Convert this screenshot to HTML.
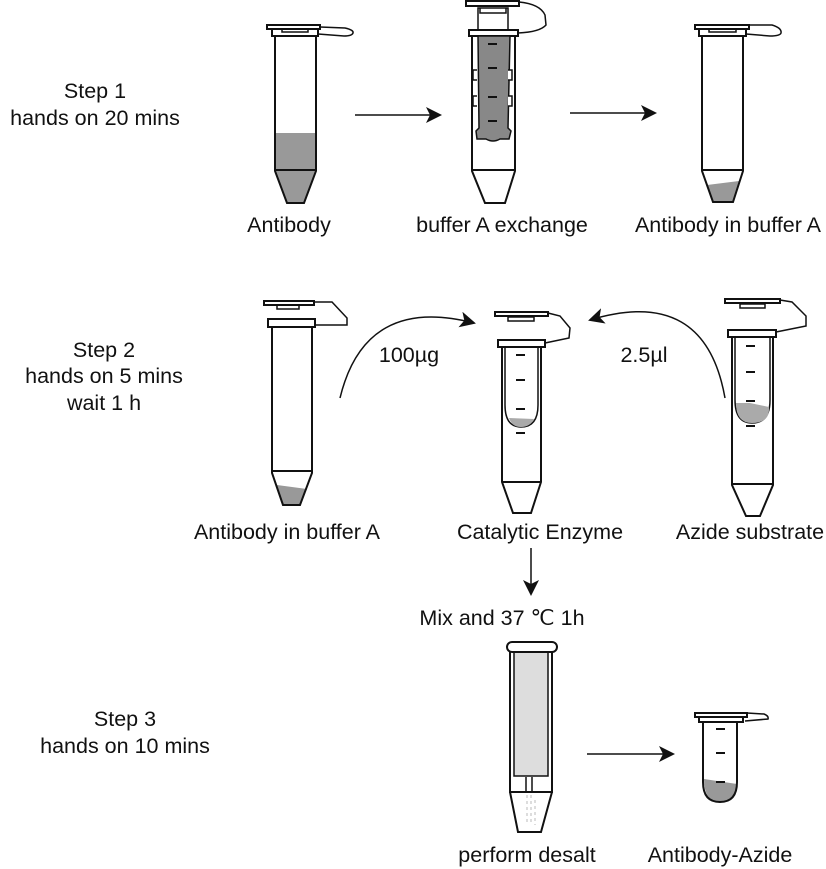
<!DOCTYPE html>
<html><head><meta charset="utf-8"><style>
html,body{margin:0;padding:0;background:#fff;}
svg{display:block;}
text{font-family:"Liberation Sans",Arial,sans-serif;font-size:21.5px;fill:#111;}
</style></head><body>
<svg width="826" height="869" viewBox="0 0 826 869" xmlns="http://www.w3.org/2000/svg">
<defs>
<marker id="ah2" markerWidth="16" markerHeight="16" refX="14" refY="8" orient="auto" markerUnits="userSpaceOnUse" viewBox="0 0 16 16">
<path d="M0,0 L16,8 L0,16 L4,8 Z" fill="#111"/></marker>
</defs>
<g stroke="#111" stroke-width="2" fill="none">
<!-- Tube 1 -->
<path d="M275,169 L316,169 L316,171 L304,203 L287,203 L275,171 Z M275,133 L316,133 L316,169 L275,169 Z" fill="#999" stroke="none"/>
<path d="M275,37 L275,171 L287,203 L304,203 L316,171 L316,37 M275,170 L316,170"/>
<rect x="267" y="25" width="53" height="4"/>
<rect x="272" y="29" width="46" height="7"/>
<rect x="282" y="29" width="26" height="3" stroke-width="1.5"/>
<path d="M320,27 L345,28 Q354,30 353,33 Q352,36 344,36 L318,34" stroke-width="1.5"/>
<!-- Tube 2 -->
<path d="M472,36 L472,171 L485,203 L505,203 L515,171 L515,36 M472,170 L515,170"/>
<rect x="466" y="1" width="53" height="5"/>
<rect x="478" y="8" width="30" height="22" stroke-width="1.5"/>
<path d="M480,8 L480,13 L506,13 L506,8" stroke-width="1.5"/>
<rect x="469" y="30" width="49" height="6"/>
<path d="M519,2 Q540,4 545,15 L546,25 Q540,32 518,33" stroke-width="1.5"/>
<path d="M478,36 L510,36 L508,128 L511,131 L509,139 L500,139 Q493,143 486,139 L477,139 L476,131 L479,128 Z" fill="#888" stroke-width="1.5"/>
<path d="M477,70 h-4 v10 h4 M477,96 h-4 v10 h4 M508,70 h4 v10 h-4 M508,96 h4 v10 h-4" fill="#fff" stroke-width="1.5"/>
<path d="M488,44 h9 M488,68 h9 M488,97 h9 M488,121 h9" stroke-width="2"/>
<!-- Tube 3 -->
<path d="M707,185 L739,181 L733,202 L713,202 Z" fill="#999" stroke="none"/>
<path d="M702,37 L702,171 L713,202 L733,202 L743,171 L743,37 M702,170 L743,170"/>
<rect x="695" y="25" width="54" height="4"/>
<rect x="699" y="29" width="47" height="7"/>
<rect x="709" y="29" width="27" height="3" stroke-width="1.5"/>
<path d="M749,25 L772,25 Q782,28 781,33 Q780,36 770,36 L746,34" stroke-width="1.5"/>
<!-- Arrows row1 -->
<path d="M355,115 L440,115" stroke-width="1.5" marker-end="url(#ah2)"/>
<path d="M570,113 L655,113" stroke-width="1.5" marker-end="url(#ah2)"/>

<!-- Tube 4 -->
<path d="M277,485 L307,489 L300,505 L283,505 Z" fill="#999" stroke="none"/>
<path d="M272,327 L272,473 L283,505 L300,505 L312,473 L312,327 M272,471 L312,471"/>
<rect x="264" y="301" width="50" height="4"/>
<rect x="277" y="305" width="22" height="4" stroke-width="1.5"/>
<rect x="268" y="319" width="47" height="8"/>
<path d="M314,302 L332,302 L347,318 L347,325 L315,325" stroke-width="1.5"/>
<!-- Tube 5 -->
<path d="M505,347 L505,405 Q505,427 521,427 Q538,427 538,405 L538,347" stroke-width="1.5"/>
<path d="M509,418 L534,419 Q530,427 521,427 Q512,427 509,418 Z" fill="#aaa" stroke="none"/>
<path d="M502,347 L502,482 L513,513 L531,513 L541,482 L541,347 M502,482 L541,482"/>
<rect x="495" y="312" width="53" height="4"/>
<rect x="508" y="317" width="26" height="4" stroke-width="1.5"/>
<rect x="498" y="340" width="47" height="7"/>
<path d="M548,313 L560,316 L570,328 L569,338 L545,343" stroke-width="1.5"/>
<path d="M516,355 h9 M516,380 h9 M516,409 h9 M516,433 h9" stroke-width="2"/>
<!-- Tube 6 -->
<path d="M735,337 L735,400 Q735,423 752,423 Q770,423 770,400 L770,337" stroke-width="1.5"/>
<path d="M736,403 Q736,423 752,423 Q770,423 769,407 L750,403 Z" fill="#aaa" stroke="none"/>
<path d="M732,337 L732,485 L746,516 L760,516 L773,485 L773,337 M732,484 L773,484"/>
<rect x="725" y="299" width="55" height="4"/>
<rect x="740" y="304" width="25" height="4" stroke-width="1.5"/>
<rect x="728" y="330" width="48" height="7"/>
<path d="M780,300 L792,302 L806,316 L806,326 L776,332" stroke-width="1.5"/>
<path d="M746,346 h9 M746,372 h9 M746,401 h9 M746,426 h9" stroke-width="2"/>
<!-- arcs -->
<path d="M340,398 Q365,295 474,323" stroke-width="1.5" marker-end="url(#ah2)"/>
<path d="M725,398 Q705,285 590,320" stroke-width="1.5" marker-end="url(#ah2)"/>
<!-- down arrow -->
<path d="M531,548 L531,594" stroke-width="1.5" marker-end="url(#ah2)"/>

<!-- Desalt column -->
<rect x="510" y="651" width="42" height="141"/>
<rect x="514" y="652" width="34" height="124" fill="#ddd" stroke-width="1.5"/>
<rect x="507" y="642" width="50" height="10" rx="5" fill="#fff"/>
<path d="M510,792 L518,832 L541,832 L552,792"/>
<path d="M526,777 v14 M532,777 v14" stroke-width="1.5"/>
<path d="M527,795 v30 M531,795 v30 M535,800 v25" stroke="#bbb" stroke-width="1" stroke-dasharray="3,3"/>
<path d="M587,754 L673,754" stroke-width="1.5" marker-end="url(#ah2)"/>
<!-- small tube -->
<path d="M704,779 L737,784 Q736,802 720,802 Q704,802 704,779 Z" fill="#999" stroke="none"/>
<path d="M703,722 L703,782 Q703,802 720,802 Q737,802 737,782 L737,722"/>
<rect x="695" y="713" width="52" height="4"/>
<rect x="699" y="717" width="44" height="5"/>
<path d="M747,713 L764,714 Q769,716 768,719 L745,721" stroke-width="1.5"/>
<path d="M716,729 h9 M716,753 h9 M716,782 h9" stroke-width="2"/>
</g>
<text x="95" y="98" text-anchor="middle">Step 1</text>
<text x="95" y="125" text-anchor="middle">hands on 20 mins</text>
<text x="289" y="232" text-anchor="middle">Antibody</text>
<text x="502" y="232" text-anchor="middle">buffer A exchange</text>
<text x="728" y="232" text-anchor="middle">Antibody in buffer A</text>
<text x="104" y="357" text-anchor="middle">Step 2</text>
<text x="104" y="383" text-anchor="middle">hands on 5 mins</text>
<text x="104" y="410" text-anchor="middle">wait 1 h</text>
<text x="409" y="362" text-anchor="middle">100µg</text>
<text x="644" y="362" text-anchor="middle">2.5µl</text>
<text x="287" y="539" text-anchor="middle">Antibody in buffer A</text>
<text x="540" y="539" text-anchor="middle">Catalytic Enzyme</text>
<text x="750" y="539" text-anchor="middle">Azide substrate</text>
<text x="502" y="625" text-anchor="middle">Mix and 37 ℃ 1h</text>
<text x="125" y="726" text-anchor="middle">Step 3</text>
<text x="125" y="753" text-anchor="middle">hands on 10 mins</text>
<text x="527" y="862" text-anchor="middle">perform desalt</text>
<text x="720" y="862" text-anchor="middle">Antibody-Azide</text>
</svg>
</body></html>
